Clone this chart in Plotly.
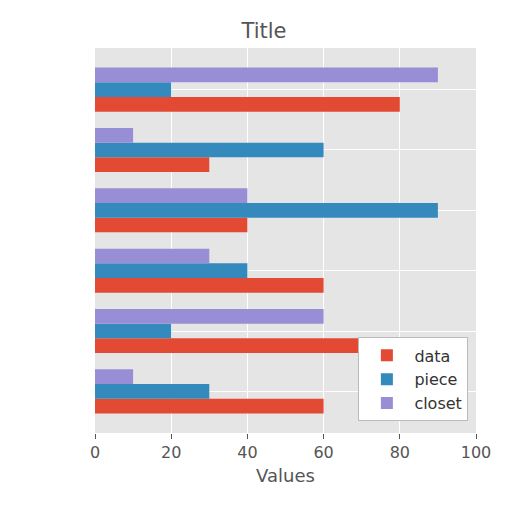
import plotly.graph_objects as go

categories = [0, 1, 2, 3, 4, 5]
data = [60, 70, 60, 40, 30, 80]
piece = [30, 20, 40, 90, 60, 20]
closet = [10, 60, 30, 40, 10, 90]
x_ticks = [0, 20, 40, 60, 80, 100]

fig = go.Figure()
for name, vals, col in [("data", data, "#E24A33"), ("piece", piece, "#348ABD"), ("closet", closet, "#988ED5")]:
    fig.add_trace(go.Bar(y=categories, x=vals, orientation="h", name=name, marker_color=col, marker_line_width=0))

fig.update_layout(
    width=512, height=512, barmode="group", bargap=0.27, bargroupgap=0,
    paper_bgcolor="white", plot_bgcolor="#E5E5E5",
    margin=dict(l=87, r=44, t=40, b=87),
    font=dict(family="DejaVu Sans", color="#555555", size=14),
    title=dict(text="Title", x=0.5, xanchor="center", y=0.97, font=dict(size=21, color="#555555")),
    legend=dict(x=0.98, y=0.03, xanchor="right", yanchor="bottom", bgcolor="white",
                bordercolor="#BBBBBB", borderwidth=1, font=dict(size=16, color="#333333"),
                traceorder="normal", itemwidth=45, tracegroupgap=2),
)
fig.update_xaxes(range=[0, 100], tickvals=x_ticks, gridcolor="white", gridwidth=1.2, zeroline=False,
                 title=dict(text="Values", font=dict(size=18, color="#555555"), standoff=8), ticks="outside",
                 tickcolor="#555555", tickfont=dict(size=16, color="#555555"))
fig.update_yaxes(range=[-0.69, 5.69], tickvals=categories, showticklabels=False, gridcolor="white",
                 gridwidth=1.2, zeroline=False, ticks="")
fig.write_html("out.html")
